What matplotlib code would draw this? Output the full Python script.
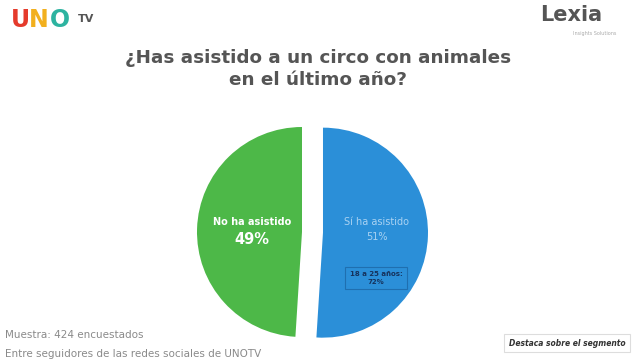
import matplotlib
matplotlib.use("Agg")
import matplotlib.pyplot as plt

# ---- data ----
categories = ["Sí ha asistido", "No ha asistido"]
values = [51, 49]
colors = ["#2B8FD8", "#4DB848"]
title_lines = ["¿Has asistido a un circo con animales", "en el último año?"]
segment_label = "18 a 25 años:"
segment_value = 72
sample_note = "Muestra: 424 encuestados"
population_note = "Entre seguidores de las redes sociales de UNOTV"
legend_note = "Destaca sobre el segmento"

W, H = 641, 360
fig = plt.figure(figsize=(W / 100, H / 100), dpi=100)
ax = fig.add_axes([0, 0, 1, 1])

def py(y):
    return H - y

ax.pie(values, colors=colors, startangle=90, counterclock=False,
       explode=[21, 0.0], center=(302, py(232)), radius=105,
       frame=True, wedgeprops=dict(linewidth=0))
ax.set_xlim(0, W)
ax.set_ylim(0, H)
ax.set_aspect("auto")
ax.axis("off")

# title
ax.text(318, py(58), title_lines[0], ha="center", va="center",
        fontsize=13.2, fontweight="bold", color="#555555")
ax.text(318, py(80), title_lines[1], ha="center", va="center",
        fontsize=13.2, fontweight="bold", color="#555555")

# slice labels
ax.text(252, py(222), categories[1], ha="center", va="center",
        fontsize=7, fontweight="bold", color="white")
ax.text(252, py(240), f"{values[1]}%", ha="center", va="center",
        fontsize=10.5, fontweight="bold", color="white")
ax.text(377, py(222), categories[0], ha="center", va="center",
        fontsize=7, color="#A9D2F2")
ax.text(377, py(237), f"{values[0]}%", ha="center", va="center",
        fontsize=7, color="#A9D2F2")
ax.text(376, py(278), f"{segment_label}\n{segment_value}%", ha="center",
        va="center", fontsize=5, fontweight="bold", color="#16325C",
        linespacing=1.2,
        bbox=dict(boxstyle="square,pad=0.6", facecolor="#2B8FD8",
                  edgecolor="#1F6FB0", linewidth=0.8))

# notes
ax.text(5, py(335), sample_note, ha="left", va="center",
        fontsize=7.5, color="#8A8A8A")
ax.text(5, py(354), population_note, ha="left", va="center",
        fontsize=7.5, color="#8A8A8A")
ax.text(567, py(343), legend_note, ha="center", va="center",
        fontsize=5.5, fontweight="bold", fontstyle="italic", color="#333333",
        bbox=dict(boxstyle="square,pad=0.6", facecolor="white",
                  edgecolor="#DDDDDD", linewidth=0.8))

# logos
logo_letters = [("U", "#E53B2C", 20), ("N", "#F2B01E", 39), ("O", "#2DB3A0", 60)]
for ch, col, x in logo_letters:
    ax.text(x, py(20), ch, ha="center", va="center", fontsize=17,
            fontweight="heavy", color=col)
ax.text(86, py(19), "TV", ha="center", va="center", fontsize=8,
        fontweight="bold", color="#555555")
ax.text(571, py(15), "Lexia", ha="center", va="center", fontsize=15,
        fontweight="bold", color="#555555")
ax.text(595, py(33), "Insights Solutions", ha="center", va="center",
        fontsize=3.5, color="#AAAAAA")

fig.savefig("out.png", dpi=100)
